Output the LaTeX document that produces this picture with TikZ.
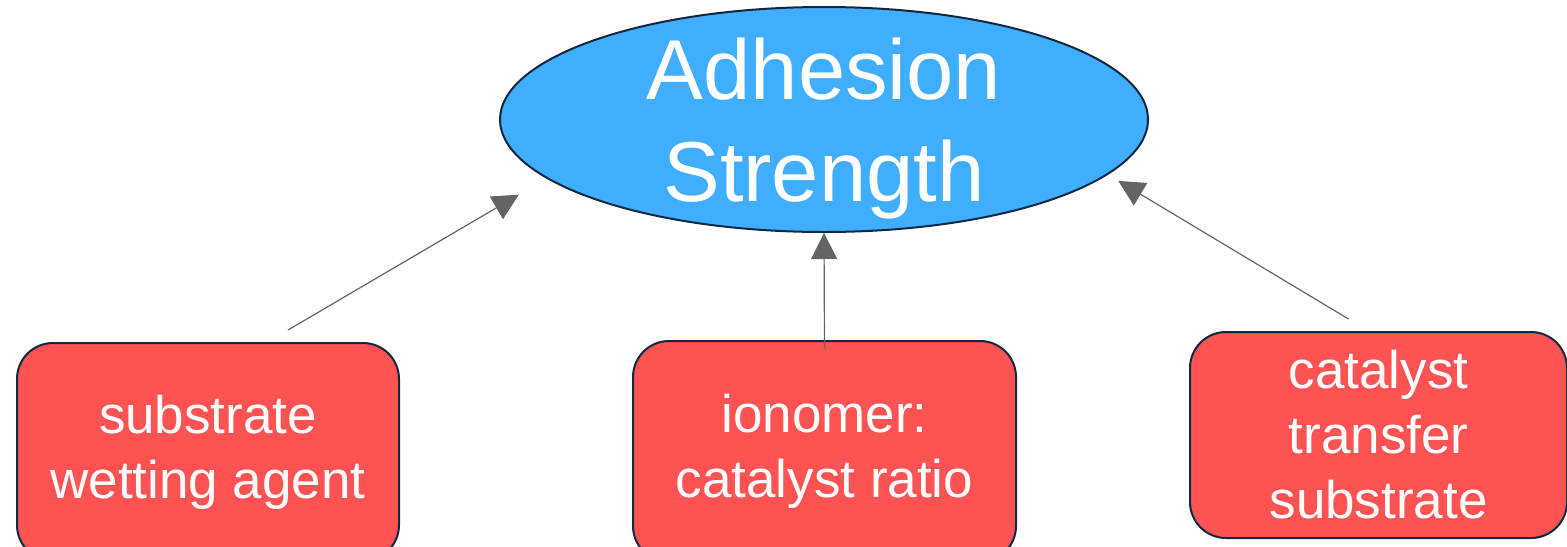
\documentclass[tikz,border=0pt]{standalone}
\usepackage{fontspec}
\setmainfont{Liberation Sans}
\usetikzlibrary{shapes.geometric, arrows.meta, positioning}
\definecolor{skyblue}{RGB}{64,174,255}
\definecolor{softred}{RGB}{255,82,82}
\definecolor{navyline}{RGB}{16,40,66}
\definecolor{linkgray}{RGB}{100,100,100}

\begin{document}
\begin{tikzpicture}[x=0.5pt, y=-0.5pt,
    factor/.style={draw=navyline, line width=1pt, fill=softred, rounded corners=18pt, text=white, align=center, inner sep=0pt, font=\fontsize{26.5}{32.5}\selectfont},
    link/.style={draw=linkgray, line width=0.6pt, -{Triangle[length=13pt,width=13pt]}}]
    \useasboundingbox (0,0) rectangle (1567,546);

    \node[ellipse, draw=navyline, line width=1pt, fill=skyblue, minimum width=324pt, minimum height=112.5pt, inner sep=0pt] (adh) at (824,119.5) {};
    \node[text=white, align=center, font=\fontsize{42.5}{51}\selectfont] (adhlabel) at ([yshift=-4.5pt]adh.center) {Adhesion\\Strength};

    \node[factor, minimum width=191pt, minimum height=109pt] (wet) at (208,452) {substrate\\wetting agent};
    \node[factor, minimum width=191.5pt, minimum height=110.5pt] (ratio) at (824.5,451.5) {ionomer:\\catalyst ratio};
    \node[factor, minimum width=188.5pt, minimum height=103pt] (transfer) at (1378.5,435) {catalyst\\transfer\\substrate};

    \draw[link, shorten >=16pt] ([xshift=40pt,yshift=6pt]wet.north) -- (adh.192);
    \draw[link] ([yshift=-4.5pt]ratio.north) -- (adh.south);
    \draw[link, shorten >=6pt] ([xshift=-15pt,yshift=6pt]transfer.north) -- (adh.349);

\end{tikzpicture}
\end{document}
